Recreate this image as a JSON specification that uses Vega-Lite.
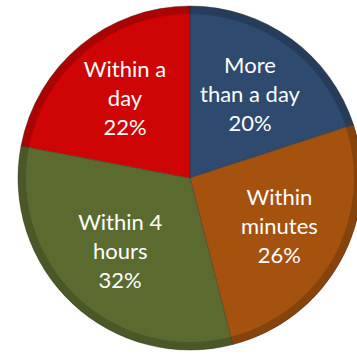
{
  "$schema": "https://vega.github.io/schema/vega-lite/v6.json",
  "width": 380,
  "height": 356,
  "padding": 0,
  "autosize": {"type": "none"},
  "background": "white",
  "view": {"stroke": null},
  "data": {
    "values": [
      {"category": "More than a day", "value": 20, "order": 1, "label": "More\nthan a day\n20%"},
      {"category": "Within minutes", "value": 26, "order": 2, "label": "Within\nminutes\n26%"},
      {"category": "Within 4 hours", "value": 32, "order": 3, "label": "Within 4\nhours\n32%"},
      {"category": "Within a day", "value": 22, "order": 4, "label": "Within a\nday\n22%"}
    ]
  },
  "encoding": {
    "theta": {"field": "value", "type": "quantitative", "stack": true},
    "order": {"field": "order", "type": "quantitative"},
    "color": {
      "field": "category",
      "type": "nominal",
      "legend": null,
      "scale": {
        "domain": ["More than a day", "Within minutes", "Within 4 hours", "Within a day"],
        "range": ["#2E4A6E", "#A5520F", "#5B6B2F", "#CF0404"]
      }
    }
  },
  "layer": [
    {"mark": {"type": "arc", "outerRadius": 172, "stroke": "#3a2a20", "strokeWidth": 0.8, "strokeOpacity": 0.5}},
    {
      "mark": {"type": "arc", "innerRadius": 164, "outerRadius": 172, "fill": "black", "fillOpacity": 0.18, "stroke": null},
      "encoding": {"color": {"value": "black"}}
    },
    {
      "mark": {"type": "text", "radius": 102, "dy": -29, "lineBreak": "\n", "fontSize": 22, "font": "Lato", "lineHeight": 29, "align": "center", "baseline": "middle", "color": "white"},
      "encoding": {
        "text": {"field": "label", "type": "nominal"},
        "color": {"value": "white"}
      }
    }
  ]
}
